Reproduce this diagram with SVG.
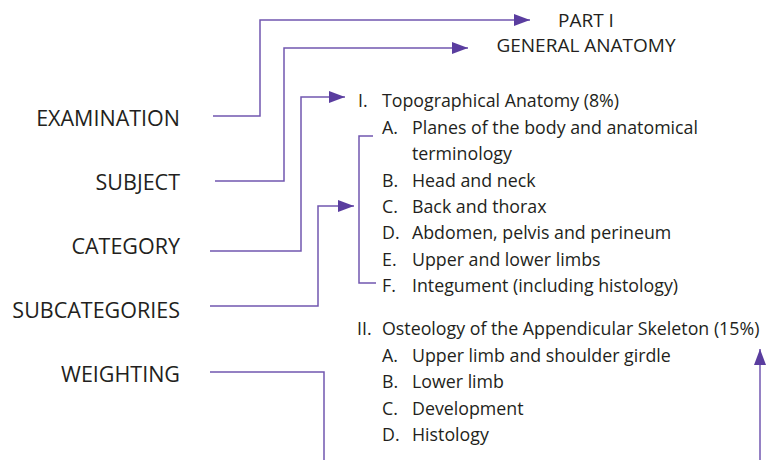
<svg xmlns="http://www.w3.org/2000/svg" width="768" height="460" viewBox="0 0 768 460">
<style>
text{font-family:"Open Sans","Liberation Sans",sans-serif;fill:#231f20}
.lab{font-size:21.5px;text-anchor:end}
.ttl{font-size:19px;text-anchor:middle}
.it{font-size:17.8px}
.c{fill:none;stroke:#7257b0;stroke-width:1.5}
</style>
<defs>
<marker id="ah" markerUnits="userSpaceOnUse" markerWidth="16" markerHeight="12" refX="16" refY="6" orient="auto"><path d="M0,0 L16,6 L0,12 z" fill="#5a3d9f"/></marker>
</defs>
<g id="connectors">
<path class="c" d="M213,116 H260 V20 H530" marker-end="url(#ah)"/>
<path class="c" d="M215,181 H284 V48 H468" marker-end="url(#ah)"/>
<path class="c" d="M210,251 H301 V97 H345" marker-end="url(#ah)"/>
<path class="c" d="M210,306 H318 V206 H354" marker-end="url(#ah)"/>
<path class="c" d="M210,372 H324 V460"/>
<path class="c" d="M760,460 V349" marker-end="url(#ah)"/>
<path class="c" d="M373,136 H359 V283 H376"/>
</g>
<g id="examination"><text class="lab" x="180" y="126">EXAMINATION</text></g>
<g id="subject"><text class="lab" x="180" y="190">SUBJECT</text></g>
<g id="category"><text class="lab" x="180" y="254">CATEGORY</text></g>
<g id="subcategories"><text class="lab" x="180" y="318">SUBCATEGORIES</text></g>
<g id="weighting"><text class="lab" x="180" y="382">WEIGHTING</text></g>
<g id="title">
<text class="ttl" x="586" y="27">PART I</text>
<text class="ttl" x="586" y="52">GENERAL ANATOMY</text>
</g>
<g id="topographical">
<text class="it" x="358" y="107">I.</text><text class="it" x="382" y="107">Topographical Anatomy (8%)</text>
<text class="it" x="382" y="133.5">A.</text><text class="it" x="412" y="133.5">Planes of the body and anatomical</text>
<text class="it" x="412" y="160">terminology</text>
<text class="it" x="382" y="186.5">B.</text><text class="it" x="412" y="186.5">Head and neck</text>
<text class="it" x="382" y="213">C.</text><text class="it" x="412" y="213">Back and thorax</text>
<text class="it" x="382" y="239">D.</text><text class="it" x="412" y="239">Abdomen, pelvis and perineum</text>
<text class="it" x="382" y="265.5">E.</text><text class="it" x="412" y="265.5">Upper and lower limbs</text>
<text class="it" x="382" y="292">F.</text><text class="it" x="412" y="292">Integument (including histology)</text>
</g>
<g id="osteology">
<text class="it" x="357" y="335">II.</text><text class="it" x="382" y="335">Osteology of the Appendicular Skeleton (15%)</text>
<text class="it" x="382" y="361.5">A.</text><text class="it" x="412" y="361.5">Upper limb and shoulder girdle</text>
<text class="it" x="382" y="388">B.</text><text class="it" x="412" y="388">Lower limb</text>
<text class="it" x="382" y="414.5">C.</text><text class="it" x="412" y="414.5">Development</text>
<text class="it" x="382" y="441">D.</text><text class="it" x="412" y="441">Histology</text>
</g>
</svg>
